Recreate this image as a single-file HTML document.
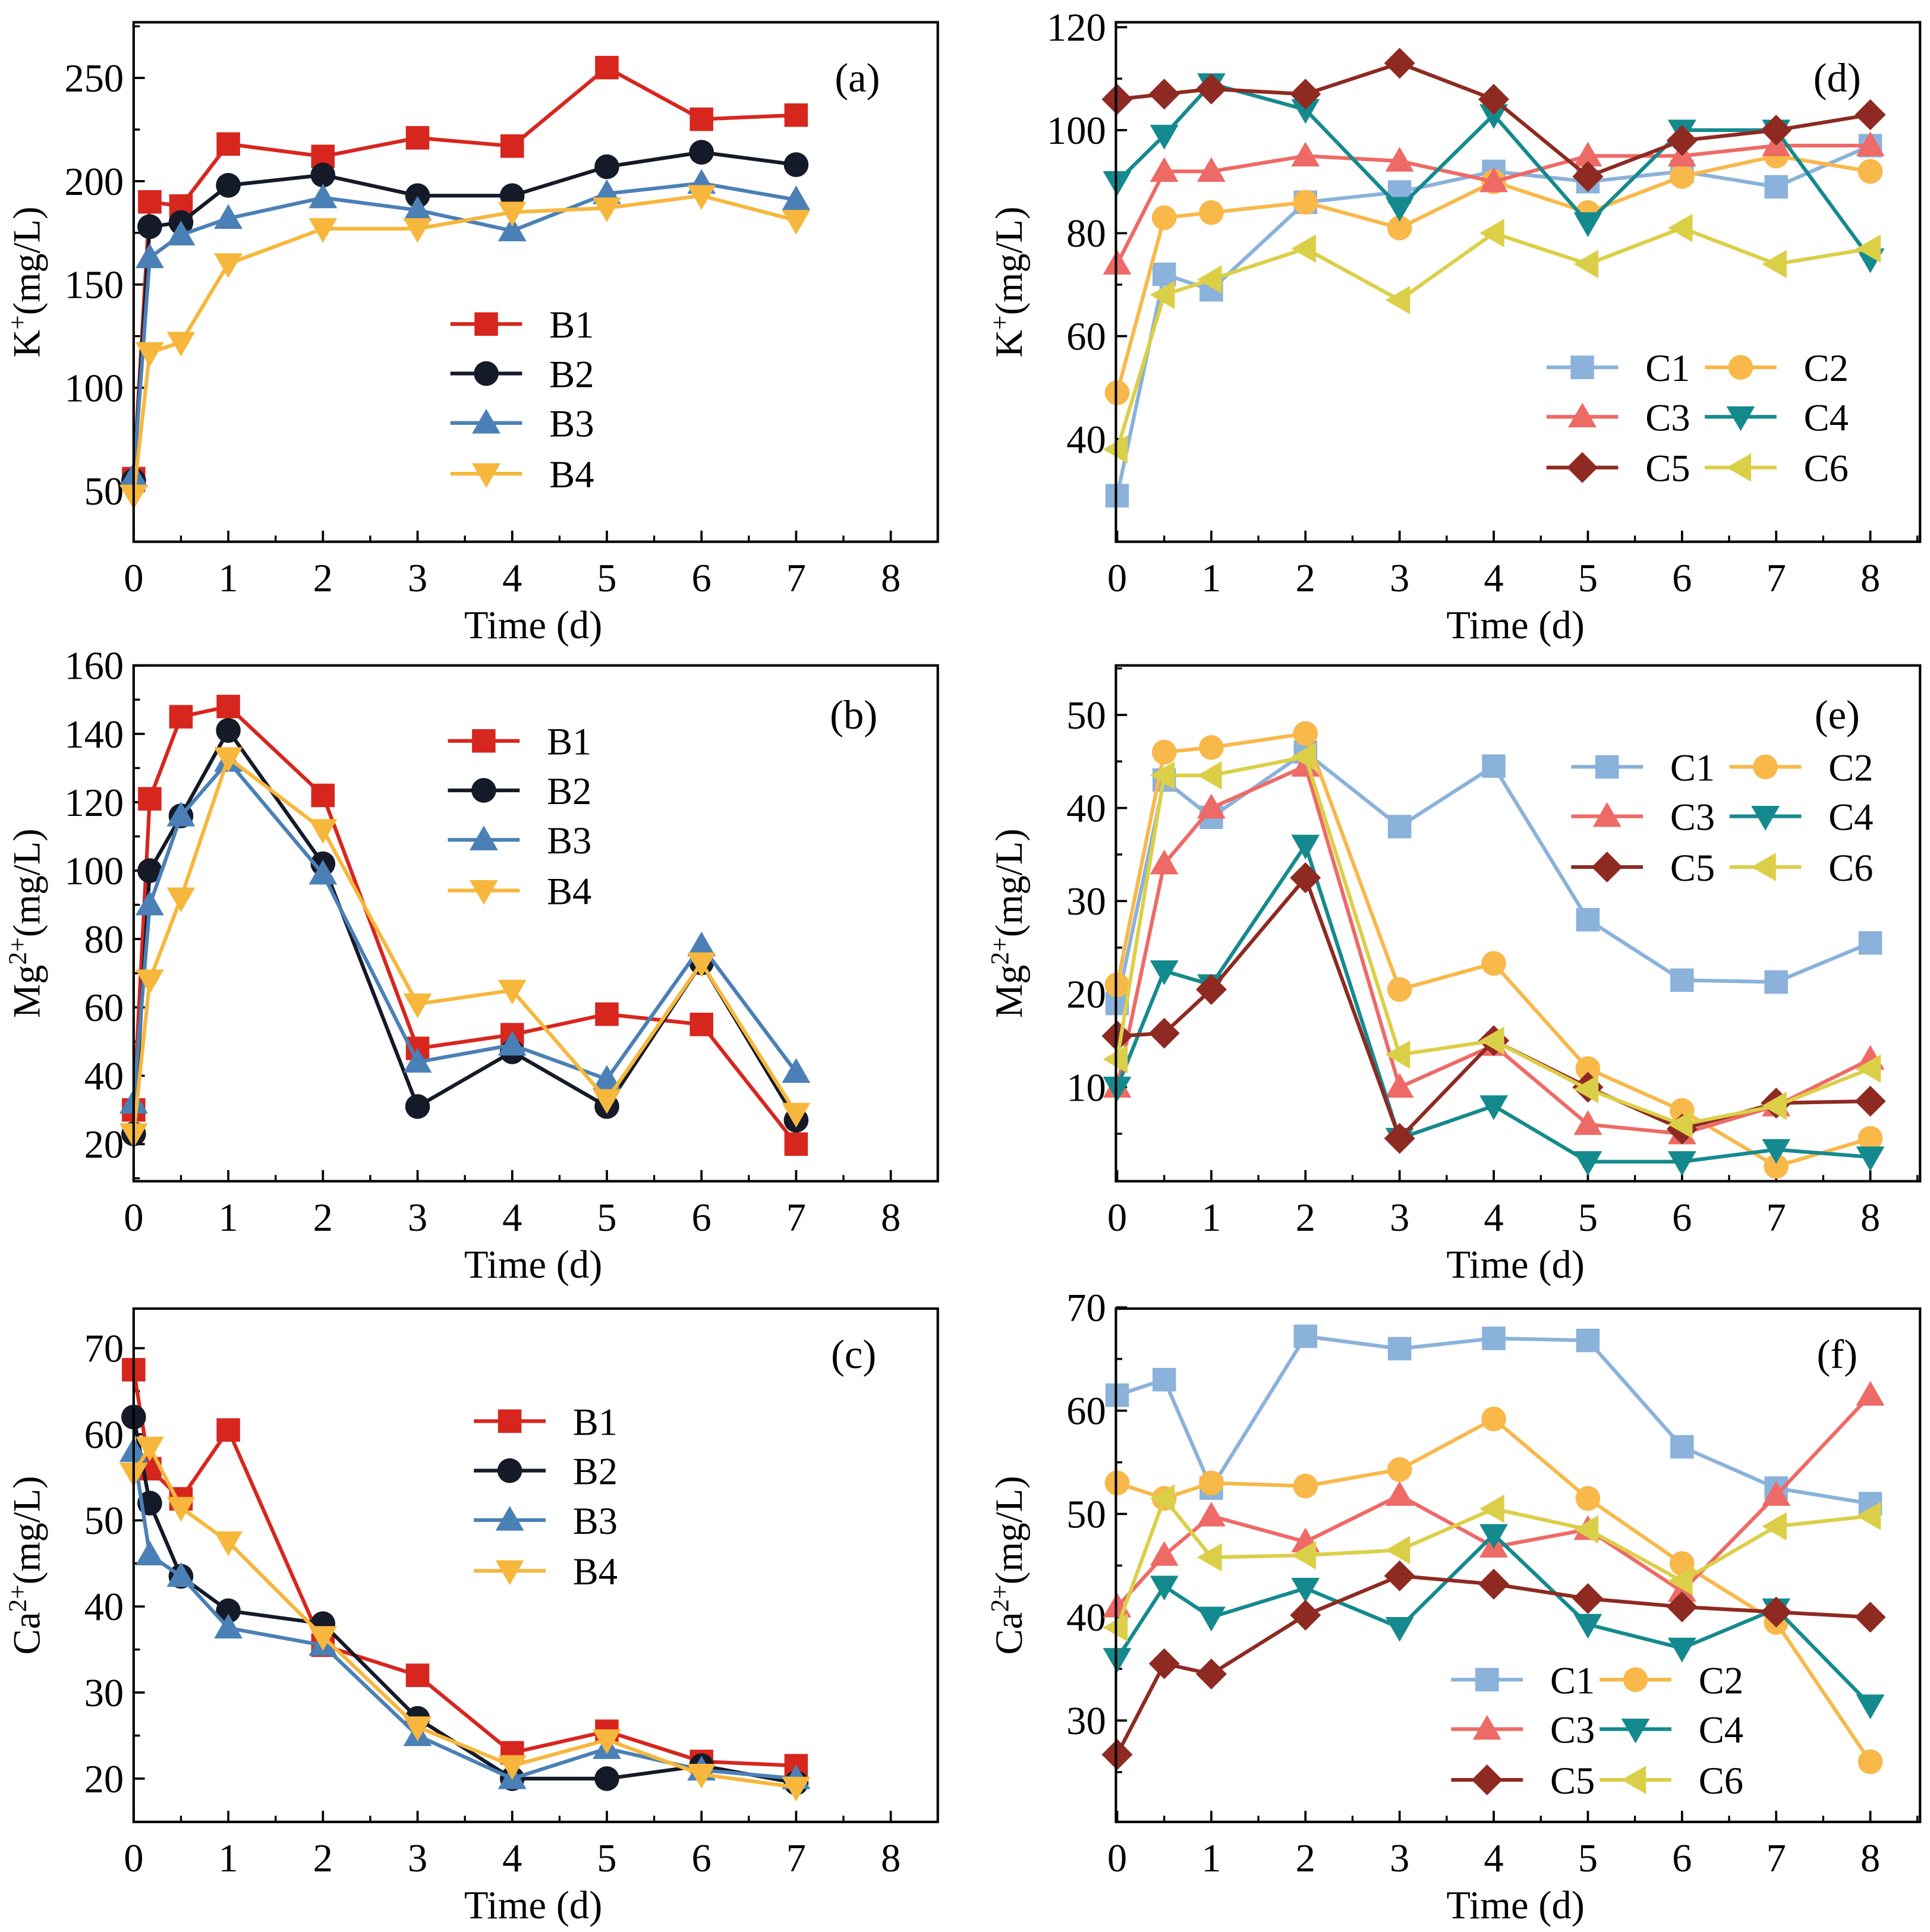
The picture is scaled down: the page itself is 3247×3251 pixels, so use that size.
<!DOCTYPE html>
<html><head><meta charset="utf-8"><style>
html,body{margin:0;padding:0;background:#fff}
svg{display:block}
text{font-family:"Liberation Serif",serif;fill:#000}
</style></head><body>
<svg id="fig" width="3247" height="3251" viewBox="0 0 1560 1562" xmlns="http://www.w3.org/2000/svg"></svg>
<script>
// ---- data ----
const xB = [0,0.17,0.5,1,2,3,4,5,6,7];
const xC = [0,0.5,1,2,3,4,5,6,7,8];
const xTicks = [0,1,2,3,4,5,6,7,8];
const aB1=[56,190,188,218,212,221,217,255,230,232];
const aB2=[55,178,180,198,203,193,193,207,214,208];
const aB3=[57,163,174,182,192,186,176,194,199,191];
const aB4=[48,117,122,160,177,177,185,187,193,181];
const bB1=[30,121,145,148,122,48,52,58,55,20];
const bB2=[23,100,116,141,102,31,47,31,73,27];
const bB3=[32,90,116,132,99,44,49,39,78,41];
const bB4=[23,68,92,133,112,61,65,33,73,29];
const cB1=[67.5,56,52.5,60.5,35.5,32,23,25.5,22,21.5];
const cB2=[62,52,43.5,39.5,38,27,20,20,21.5,19.5];
const cB3=[58,46,43.5,37.5,35.5,25,20,23.5,21,20];
const cB4=[55.5,58.5,51.5,47.5,36.5,26,21.5,24.5,20.5,19];
const dC1=[29,72,69,86,88,92,90,92,89,97];
const dC2=[49,83,84,86,81,90,84,91,95,92];
const dC3=[74,92,92,95,94,90,95,95,97,97];
const dC4=[90,99,109,104,85,103,82,100,100,75];
const dC5=[106,107,108,107,113,106,91,98,100,103];
const dC6=[38,68,71,77,67,80,74,81,74,77];
const eC1=[19,43,39,46,38,44.5,28,21.5,21.3,25.5];
const eC2=[21,46,46.5,48,20.5,23.3,12,7.5,1.5,4.5];
const eC3=[10,34,40,44.5,10,14.5,6,5,8,13];
const eC4=[10,22.5,21,36,4.5,8,2,2,3.3,2.5];
const eC5=[15.5,15.8,20.5,32.5,4.5,15,10,5.5,8.3,8.5];
const eC6=[13,43.5,43.5,45.5,13.5,15,9.8,6,8,12];
const fC1=[61.5,63,52.5,67.2,66,67,66.8,56.5,52.5,51];
const fC2=[53,51.5,53,52.7,54.3,59.2,51.5,45.2,39.5,26];
const fC3=[41,46,49.8,47.3,51.8,46.8,48.5,42.5,51.8,61.5];
const fC4=[36,43,40,42.8,39,48,39.3,37,40.8,31.5];
const fC5=[26.7,35.5,34.5,40.2,44,43.2,41.8,41,40.5,40];
const fC6=[39,51.5,45.8,46,46.5,50.5,48.5,43.5,48.8,49.8];
const aTicks=[50,100,150,200,250];
const bTicks=[20,40,60,80,100,120,140,160];
const cTicks=[20,30,40,50,60,70];
const dTicks=[40,60,80,100,120];
const eTicks=[10,20,30,40,50];
const fTicks=[30,40,50,60,70];

const NS="http://www.w3.org/2000/svg";
const svg=document.getElementById('fig');
function mk(tag,attrs,parent){const e=document.createElementNS(NS,tag);for(const k in attrs)e.setAttribute(k,attrs[k]);(parent||svg).appendChild(e);return e;}
function marker(g,shape,cx,cy,col){
  const s=9.5;let e;
  if(shape==='sq')e=mk('rect',{x:cx-s,y:cy-s,width:2*s,height:2*s,fill:col},g);
  else if(shape==='ci')e=mk('circle',{cx:cx,cy:cy,r:s+0.5,fill:col},g);
  else if(shape==='up')e=mk('polygon',{points:`${cx},${cy-s-2} ${cx-s-2},${cy+s-1} ${cx+s+2},${cy+s-1}`,fill:col},g);
  else if(shape==='dn')e=mk('polygon',{points:`${cx},${cy+s+2} ${cx-s-2},${cy-s+1} ${cx+s+2},${cy-s+1}`,fill:col},g);
  else if(shape==='di')e=mk('polygon',{points:`${cx},${cy-s-3} ${cx+s+3},${cy} ${cx},${cy+s+3} ${cx-s-3},${cy}`,fill:col},g);
  else if(shape==='lt')e=mk('polygon',{points:`${cx-s-2},${cy} ${cx+s-1},${cy-s-2} ${cx+s-1},${cy+s+2}`,fill:col},g);
  
  
}
function panel(p){
  const g=mk('g',{});
  
  
  const X=v=>p.x0+v*p.dx;
  const Y=v=>p.ypx0+(v-p.yv0)*p.dy;
  xTicks.forEach(t=>{
    const l=mk('line',{x1:X(t),x2:X(t),y1:p.yb,y2:p.yb-9,stroke:'#000','stroke-width':1.8},g);
    
    const xm=X(t+0.5);
    if(xm<p.xr){const m=mk('line',{x1:xm,x2:xm,y1:p.yb,y2:p.yb-5,stroke:'#000','stroke-width':1.6},g);
    }
    const tx=mk('text',{x:X(t),y:p.yb+40,'font-size':32,'text-anchor':'middle'},g);tx.textContent=t;
    
  });
  const step=p.yt[1]-p.yt[0];
  p.yt.forEach(t=>{
    const l=mk('line',{x1:p.xl,x2:p.xl+9,y1:Y(t),y2:Y(t),stroke:'#000','stroke-width':1.8},g);
    
    [t-step/2,t+step/2].forEach(mv=>{const ym=Y(mv);
      if(ym>p.yt0+2&&ym<p.yb-2){const m=mk('line',{x1:p.xl,x2:p.xl+5,y1:ym,y2:ym,stroke:'#000','stroke-width':1.6},g);
      }});
    const tx=mk('text',{x:p.xl-8,y:Y(t)+11,'font-size':32,'text-anchor':'end'},g);tx.textContent=t;
    
  });
  p.series.forEach(s=>{
    const xs=p.xs;
    const pts=s.v.map((v,i)=>X(xs[i])+','+Y(v)).join(' ');
    const pl=mk('polyline',{points:pts,fill:'none',stroke:s.c,'stroke-width':3},g);
    
    s.v.forEach((v,i)=>marker(g,s.m,X(xs[i]),Y(v),s.c));
  });
  const fr=mk('rect',{x:p.xl,y:p.yt0,width:p.xr-p.xl,height:p.yb-p.yt0,fill:'none',stroke:'#000','stroke-width':2},g);
  
  p.series.forEach((s,i)=>{
    const lx=p.lg[i][0],ly=p.lg[i][1];
    const l=mk('line',{x1:lx,x2:lx+58,y1:ly,y2:ly,stroke:s.c,'stroke-width':3},g);
    
    marker(g,s.m,lx+29,ly,s.c);
    const t=mk('text',{x:lx+p.lgt,y:ly+11,'font-size':31},g);t.textContent=s.n;
    
  });
  const lab=mk('text',{x:p.lab[0],y:p.lab[1],'font-size':33,'text-anchor':'middle'},g);lab.textContent='('+p.id+')';
  
  const xt=mk('text',{x:(p.xl+p.xr)/2-2,y:p.yb+78,'font-size':32,'text-anchor':'middle'},g);xt.textContent='Time (d)';
  
  const cy=(p.yt0+p.yb)/2, tx0=p.xl-76;
  const yt=mk('text',{x:tx0,y:cy,'font-size':31,'text-anchor':'middle',transform:`rotate(-90 ${tx0} ${cy})`},g);
  yt.innerHTML=p.ion+'<tspan dy="-11" font-size="21">'+p.sup+'</tspan><tspan dy="11">(mg/L)</tspan>';
  
}
const RB='#d7261e',KB='#151a28',BB='#4a80b6',YB='#f6b73c';
const C1='#8ab2da',C2='#f8b84a',C3='#ee6a66',C4='#158a8e',C5='#8e2a22',C6='#dccf48';
function legB(x,y){return [[x,y],[x,y+40],[x,y+80],[x,y+121]];}
function legC(x1,x2,y){return [[x1,y],[x2,y],[x1,y+40],[x2,y+40],[x1,y+81],[x2,y+81]];}
const L={xl:108,xr:758,x0:108,dx:76.5};
const R={xl:902,xr:1552,x0:903,dx:76.1};
panel(Object.assign({id:'a',xs:xB,yt0:18,yb:438,ypx0:397,yv0:50,dy:-1.67,yt:aTicks,ion:'K',sup:'+',lab:[693,74],lgt:80,lg:legB(364,262),
 series:[{n:'B1',v:aB1,c:RB,m:'sq'},{n:'B2',v:aB2,c:KB,m:'ci'},{n:'B3',v:aB3,c:BB,m:'up'},{n:'B4',v:aB4,c:YB,m:'dn'}]},L));
panel(Object.assign({id:'b',xs:xB,yt0:538,yb:955,ypx0:925,yv0:20,dy:-2.764,yt:bTicks,ion:'Mg',sup:'2+',lab:[690,589],lgt:80,lg:legB(362,599),
 series:[{n:'B1',v:bB1,c:RB,m:'sq'},{n:'B2',v:bB2,c:KB,m:'ci'},{n:'B3',v:bB3,c:BB,m:'up'},{n:'B4',v:bB4,c:YB,m:'dn'}]},L));
panel(Object.assign({id:'c',xs:xB,yt0:1058,yb:1473,ypx0:1438,yv0:20,dy:-6.96,yt:cTicks,ion:'Ca',sup:'2+',lab:[690,1106],lgt:80,lg:legB(383,1149),
 series:[{n:'B1',v:cB1,c:RB,m:'sq'},{n:'B2',v:cB2,c:KB,m:'ci'},{n:'B3',v:cB3,c:BB,m:'up'},{n:'B4',v:cB4,c:YB,m:'dn'}]},L));
const sC=(a,b,c,d,e,f)=>[{n:'C1',v:a,c:C1,m:'sq'},{n:'C2',v:b,c:C2,m:'ci'},{n:'C3',v:c,c:C3,m:'up'},{n:'C4',v:d,c:C4,m:'dn'},{n:'C5',v:e,c:C5,m:'di'},{n:'C6',v:f,c:C6,m:'lt'}];
panel(Object.assign({id:'d',xs:xC,yt0:18,yb:438,ypx0:355,yv0:40,dy:-4.1625,yt:dTicks,ion:'K',sup:'+',lab:[1485,74],lgt:80,lg:legC(1250,1378,297),series:sC(dC1,dC2,dC3,dC4,dC5,dC6)},R));
panel(Object.assign({id:'e',xs:xC,yt0:538,yb:955,ypx0:879,yv0:10,dy:-7.525,yt:eTicks,ion:'Mg',sup:'2+',lab:[1485,589],lgt:80,lg:legC(1270,1398,620),series:sC(eC1,eC2,eC3,eC4,eC5,eC6)},R));
panel(Object.assign({id:'f',xs:xC,yt0:1058,yb:1473,ypx0:1391,yv0:30,dy:-8.35,yt:fTicks,ion:'Ca',sup:'2+',lab:[1485,1106],lgt:80,lg:legC(1173,1293,1358),series:sC(fC1,fC2,fC3,fC4,fC5,fC6)},R));
</script>
</body></html>
